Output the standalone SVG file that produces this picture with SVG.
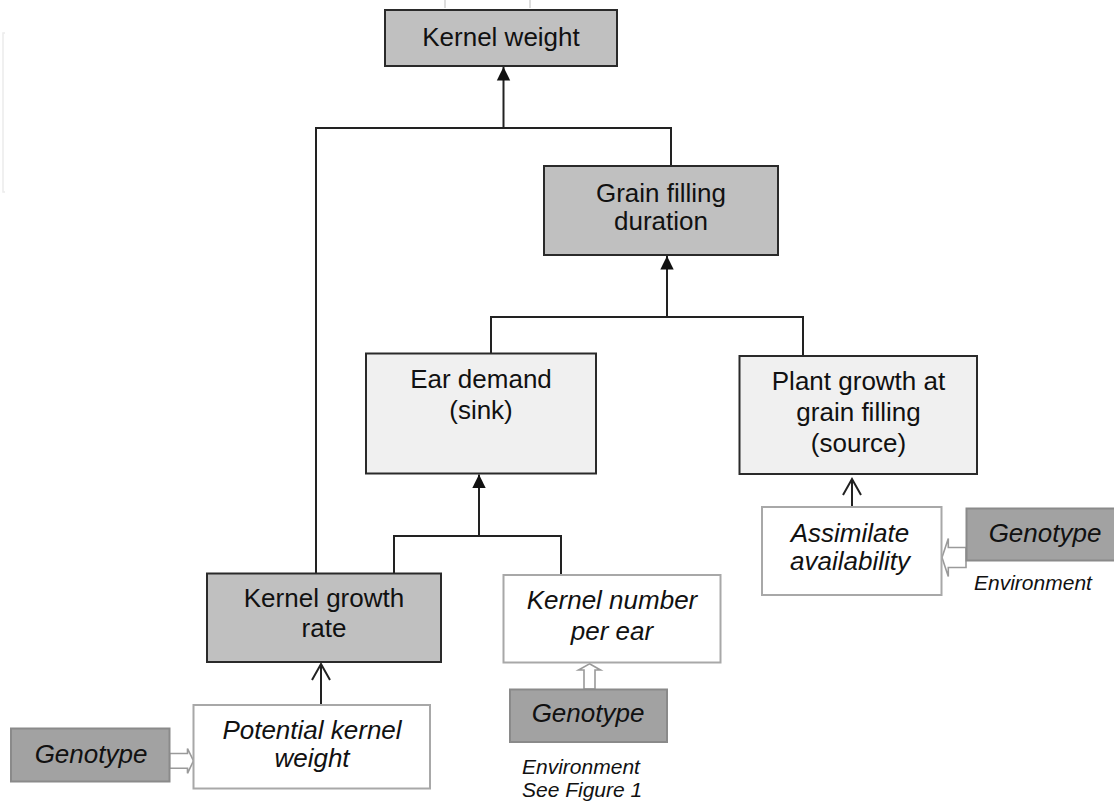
<svg xmlns="http://www.w3.org/2000/svg" width="1114" height="802" viewBox="0 0 1114 802">
<style>
text{font-family:"Liberation Sans",Arial,sans-serif;fill:#111;text-anchor:middle}
.t{font-size:26px}
.i{font-size:26px;font-style:italic}
.s{font-size:21px;font-style:italic;text-anchor:start}
.dark{fill:#c0c0c0;stroke:#2a2a2a;stroke-width:2}
.light{fill:#f0f0f0;stroke:#2a2a2a;stroke-width:2}
.white{fill:#fff;stroke:#a8a8a8;stroke-width:2}
.geno{fill:#a2a2a2;stroke:#8a8a8a;stroke-width:2}
.ln{fill:none;stroke:#222;stroke-width:2}
.blk{fill:#fff;stroke:#9a9a9a;stroke-width:1.6}
</style>
<defs>
<marker id="fa" markerUnits="userSpaceOnUse" markerWidth="14" markerHeight="14" refX="13.5" refY="6.7" orient="auto" overflow="visible">
<path d="M0,0 L13.5,6.7 L0,13.4 z" fill="#111"/>
</marker>
<marker id="oa" markerUnits="userSpaceOnUse" markerWidth="20" markerHeight="20" refX="17" refY="10" orient="auto" overflow="visible">
<path d="M1,1 L17,10 L1,19" fill="none" stroke="#222" stroke-width="2"/>
</marker>
<clipPath id="envclip"><rect x="960" y="560" width="154" height="30"/></clipPath>
</defs>
<rect width="1114" height="802" fill="#fff"/>
<g id="artifacts" fill="none" stroke="#ececec" stroke-width="1.5">
<path d="M5,33 H3 V192 H5"/>
<path d="M445,0 V8 M530,0 V8" stroke="#bbb" stroke-width="1"/>
</g>
<g id="connectors">
<path class="ln" d="M503.5,128 V67" marker-end="url(#fa)"/>
<path class="ln" d="M316,573 V128 H671 V166"/>
<path class="ln" d="M667,317 V256" marker-end="url(#fa)"/>
<path class="ln" d="M491,353 V317 H803 V356"/>
<path class="ln" d="M479,536 V474.5" marker-end="url(#fa)"/>
<path class="ln" d="M394,573 V536 H561 V575"/>
<path class="ln" d="M321,705 V664" marker-end="url(#oa)"/>
<path class="ln" d="M852,507 V479" marker-end="url(#oa)"/>
<polygon class="blk" points="169.5,753.5 187.5,753.5 187.5,748.5 193.5,760.8 187.5,773.3 187.5,768.3 169.5,768.3"/>
<polygon class="blk" points="589.5,663.8 600.5,670 595,670 595,689 584,689 584,670 578.5,670"/>
<polygon class="blk" points="942,557.5 948.3,538.5 948.3,547.5 966,547.5 966,567.5 948.3,567.5 948.3,576.5"/>
</g>
<g id="kernel-weight">
<rect class="dark" x="385" y="10" width="232" height="56"/>
<text class="t" x="501" y="46">Kernel weight</text>
</g>
<g id="grain-filling-duration">
<rect class="dark" x="544" y="166" width="234" height="89"/>
<text class="t" x="661" y="202">Grain filling</text>
<text class="t" x="661" y="230">duration</text>
</g>
<g id="ear-demand">
<rect class="light" x="366" y="353.5" width="230" height="120"/>
<text class="t" x="481" y="387.5">Ear demand</text>
<text class="t" x="481" y="418.5">(sink)</text>
</g>
<g id="plant-growth">
<rect class="light" x="739.5" y="356" width="237.5" height="118"/>
<text class="t" x="858.5" y="390">Plant growth at</text>
<text class="t" x="858.5" y="421">grain filling</text>
<text class="t" x="858.5" y="451.5">(source)</text>
</g>
<g id="assimilate-availability">
<rect class="white" x="762" y="507" width="179.5" height="88"/>
<text class="i" x="850" y="542">Assimilate</text>
<text class="i" x="850" y="570">availability</text>
</g>
<g id="genotype-right">
<rect class="geno" x="966.5" y="508.5" width="150" height="52"/>
<text class="i" x="1045" y="542">Genotype</text>
<text class="s" x="974" y="590" clip-path="url(#envclip)">Environment</text>
</g>
<g id="kernel-growth-rate">
<rect class="dark" x="207" y="573.5" width="234" height="88.5"/>
<text class="t" x="324" y="607">Kernel growth</text>
<text class="t" x="324" y="637">rate</text>
</g>
<g id="kernel-number-per-ear">
<rect class="white" x="503.5" y="575" width="217" height="87.5"/>
<text class="i" x="612" y="608.5">Kernel number</text>
<text class="i" x="612" y="639.5">per ear</text>
</g>
<g id="genotype-middle">
<rect class="geno" x="510" y="689.5" width="157" height="52.5"/>
<text class="i" x="588" y="722">Genotype</text>
<text class="s" x="522" y="774">Environment</text>
<text class="s" x="522" y="797">See Figure 1</text>
</g>
<g id="potential-kernel-weight">
<rect class="white" x="193.5" y="705" width="236.5" height="83.5"/>
<text class="i" x="312" y="738.5">Potential kernel</text>
<text class="i" x="312" y="767">weight</text>
</g>
<g id="genotype-left">
<rect class="geno" x="11" y="728.5" width="158.5" height="53"/>
<text class="i" x="91" y="763">Genotype</text>
</g>
</svg>
